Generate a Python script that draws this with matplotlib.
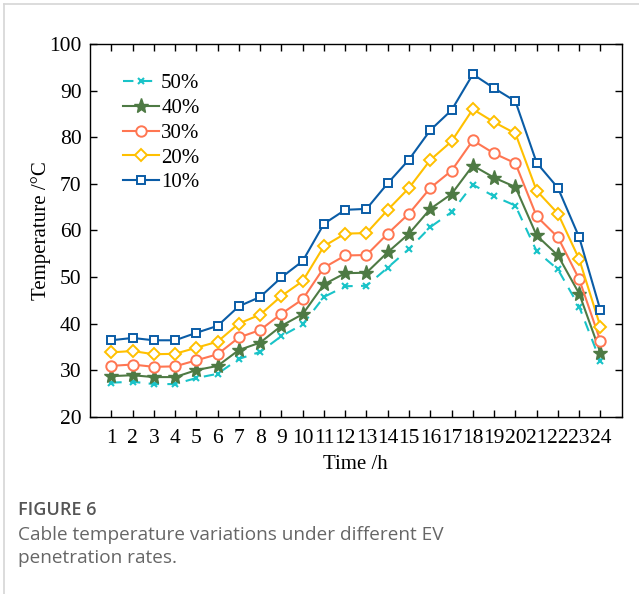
import matplotlib
matplotlib.use("Agg")
import matplotlib.pyplot as plt
from matplotlib.lines import Line2D

hours = list(range(1, 25))
labels = ["50%", "40%", "30%", "20%", "10%"]
t50 = [27.3, 27.5, 27.0, 27.0, 28.3, 29.2, 32.4, 33.9, 37.3, 39.8, 45.7, 48.0,
       48.1, 52.0, 56.0, 60.7, 63.9, 69.8, 67.3, 65.3, 55.5, 51.6, 43.6, 31.9]
t40 = [28.7, 28.9, 28.5, 28.5, 30.0, 30.9, 34.3, 35.9, 39.5, 42.0, 48.4, 50.8,
       50.9, 55.3, 59.3, 64.6, 67.8, 73.9, 71.3, 69.3, 58.9, 54.6, 46.4, 33.7]
t30 = [30.9, 31.2, 30.7, 30.8, 32.1, 33.4, 37.0, 38.6, 42.1, 45.2, 52.0, 54.6,
       54.7, 59.3, 63.6, 69.1, 72.8, 79.3, 76.5, 74.4, 63.0, 58.5, 49.5, 36.2]
t20 = [33.8, 34.1, 33.4, 33.5, 34.8, 36.1, 40.0, 41.9, 45.9, 49.1, 56.6, 59.3,
       59.4, 64.4, 69.1, 75.1, 79.1, 86.0, 83.2, 80.8, 68.5, 63.6, 53.8, 39.3]
t10 = [36.4, 36.9, 36.4, 36.4, 38.0, 39.5, 43.7, 45.7, 49.9, 53.4, 61.4, 64.4,
       64.6, 70.1, 75.2, 81.5, 85.8, 93.5, 90.5, 87.7, 74.5, 69.1, 58.5, 42.8]
yticks = [20, 30, 40, 50, 60, 70, 80, 90, 100]

serif = ["Liberation Serif", "DejaVu Serif"]
fig = plt.figure(figsize=(6.39, 5.94), dpi=100)
ax = fig.add_axes([0.1408, 0.2985, 0.8322, 0.6275])

c_cyan = "#19C3C8"
c_green = "#4E7A44"
c_orange = "#FF7652"
c_yellow = "#FFC000"
c_blue = "#0A5CA6"

ax.plot(hours, t50, color=c_cyan, ls=(0, (5, 4)), lw=1.5, marker="x", ms=5,
        mew=1.5, label=labels[0])
ax.plot(hours, t40, color=c_green, lw=1.5, marker="*", ms=11,
        mfc=c_green, label=labels[1])
ax.plot(hours, t30, color=c_orange, lw=1.5, marker="o", ms=7.5,
        mfc="white", mew=1.4, label=labels[2])
ax.plot(hours, t20, color=c_yellow, lw=1.5, marker="D", ms=6.5,
        mfc="white", mew=1.4, label=labels[3])
ax.plot(hours, t10, color=c_blue, lw=1.5, marker="s", ms=6,
        mfc="white", mew=1.4, label=labels[4])

ax.set_xlim(0, 25)
ax.set_ylim(20, 100)
ax.set_xticks(hours)
ax.set_xticklabels([str(h) for h in hours])
ax.set_yticks(yticks)
ax.tick_params(direction="in", top=True, right=True, length=5, width=1,
               labelsize=15.5, pad=6)
ax.tick_params(axis="x", pad=9)
for lab in ax.get_xticklabels() + ax.get_yticklabels():
    lab.set_fontfamily(serif)
for sp in ax.spines.values():
    sp.set_linewidth(1.0)

ax.set_xlabel("Time /h", fontsize=15, family=serif, labelpad=5)
ax.set_ylabel("Temperature /°C", fontsize=15, family=serif, labelpad=-1)

leg = ax.legend(loc="upper left", frameon=False, prop={"family": serif, "size": 15},
                handlelength=1.75, handletextpad=0.1, labelspacing=0.25,
                borderaxespad=0.4, bbox_to_anchor=(0.03, 0.965))

# outer frame lines (light gray)
fig.add_artist(Line2D([4 / 639, 4 / 639], [0, 1 - 4 / 594], color="#d6d6d6", lw=1.2,
                      transform=fig.transFigure))
fig.add_artist(Line2D([4 / 639, 1], [1 - 4 / 594, 1 - 4 / 594], color="#d6d6d6", lw=1.2,
                      transform=fig.transFigure))

cap = ["Open Sans", "DejaVu Sans"]
fig.text(18 / 639, 1 - 510 / 594, "FIGURE 6", fontsize=13, family=cap,
         color="#555555", fontweight="semibold", va="center")
fig.text(18 / 639, 1 - 535 / 594, "Cable temperature variations under different EV",
         fontsize=13.7, family=cap, color="#666666", va="center")
fig.text(18 / 639, 1 - 558 / 594, "penetration rates.",
         fontsize=13.7, family=cap, color="#666666", va="center")

fig.savefig("out.png", dpi=100)
